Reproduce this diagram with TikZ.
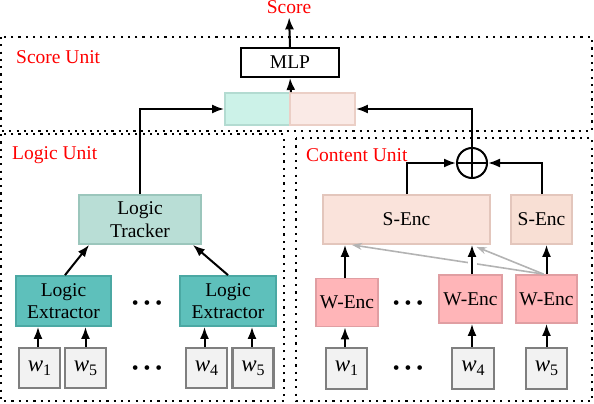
\documentclass[tikz,border=0pt]{standalone}
\usepackage{fontspec}
\setmainfont{Liberation Serif}
\usetikzlibrary{arrows.meta,calc}
\definecolor{unitred}{HTML}{FF0000}
\definecolor{catLfill}{HTML}{CCF2E8}
\definecolor{catLdraw}{HTML}{B3DBD1}
\definecolor{catRfill}{HTML}{FAEAE6}
\definecolor{catRdraw}{HTML}{EBCFC6}
\definecolor{sencfill}{HTML}{FAE3DB}
\definecolor{sencdraw}{HTML}{E3C6BC}
\definecolor{sencSfill}{HTML}{F8DFD4}
\definecolor{trackfill}{HTML}{B9DED6}
\definecolor{trackdraw}{HTML}{9BC6BC}
\definecolor{extfill}{HTML}{5EC0BB}
\definecolor{extdraw}{HTML}{4BA8A3}
\definecolor{wencfill}{HTML}{FFB5B8}
\definecolor{wencdraw}{HTML}{E09EA2}
\definecolor{wfill}{HTML}{F2F2F2}
\definecolor{wdraw}{HTML}{7F7F7F}
\definecolor{grayarrow}{HTML}{B3B3B3}
\newcommand{\wlab}[1]{{\fontsize{23}{23}\selectfont\itshape w}\raisebox{-4pt}{\fontsize{16}{16}\selectfont #1}}
\tikzset{
  every node/.style={font=\fontsize{19.5}{22.5}\selectfont, inner sep=0pt, align=center},
  unitbox/.style={line width=2.2pt, dash pattern=on 2.2pt off 5.1pt},
  unitlabel/.style={text=unitred, anchor=west},
  arr/.style={line width=2pt, -{Latex[length=12pt,width=9pt]}},
  garr/.style={draw=grayarrow, line width=1.6pt, -{Stealth[length=10pt,width=7pt]}},
  box/.style={rectangle, line width=1.8pt},
  mlpbox/.style={box, draw=black, fill=white, minimum width=98pt, minimum height=29pt, line width=2pt},
  catl/.style={box, draw=catLdraw, fill=catLfill, minimum width=65pt, minimum height=32pt},
  catr/.style={box, draw=catRdraw, fill=catRfill, minimum width=65pt, minimum height=32pt},
  sencbox/.style={box, draw=sencdraw, fill=sencfill, minimum height=49pt},
  trackbox/.style={box, draw=trackdraw, fill=trackfill, minimum width=122pt, minimum height=49pt},
  extbox/.style={box, draw=extdraw, fill=extfill, minimum width=95pt, minimum height=50pt},
  wencbox/.style={box, draw=wencdraw, fill=wencfill, minimum width=62pt, minimum height=48pt},
  wbox/.style={box, draw=wdraw, fill=wfill, minimum width=41pt, minimum height=40pt, line width=2.2pt},
  dotsnode/.style={font=\fontsize{19.5}{19.5}\selectfont}
}
\begin{document}
\begin{tikzpicture}[x=1pt,y=-1pt]
\useasboundingbox (0,0) rectangle (594,404);
% unit boxes
\draw[unitbox] (1,37) rectangle (592,131);
\draw[unitbox] (1,134) rectangle (284,401);
\draw[unitbox] (296,138) rectangle (592,401);
\node[unitlabel] (lscore) at (16,57) {Score Unit};
\node[unitlabel] (llogic) at (12,155) {Logic Unit};
\node[unitlabel] (lcontent) at (306,155) {Content Unit};
% score part
\node[text=unitred, anchor=base] (score) at (289,14) {Score};
\node[mlpbox] (mlp) at (290,62.5) {MLP};
\node[catl] (catL) at (257.5,109) {};
\node[catr] (catR) at (322.5,109) {};
% logic part
\node[trackbox] (track) at (140,219.5) {Logic\\Tracker};
\node[extbox] (le1) at (63.5,301) {Logic\\Extractor};
\node[extbox, minimum width=96pt] (le2) at (228,301) {Logic\\Extractor};
\node[dotsnode] (ldots1) at (147,305) {•\hspace{4.9pt}•\hspace{4.9pt}•};
\node[dotsnode] (ldots2) at (147,370) {•\hspace{4.9pt}•\hspace{4.9pt}•};
\node[wbox] (lw1) at (39.5,368) {\wlab{1}};
\node[wbox] (lw5a) at (85.5,368) {\wlab{5}};
\node[wbox] (lw4) at (206.5,368) {\wlab{4}};
\node[wbox] (lw5b) at (253,368) {\wlab{5}};
% content part
\node[circle, draw=black, line width=2pt, minimum size=30pt] (plus) at (472,163) {};
\draw[line width=2pt] (plus.north) -- (plus.south) (plus.west) -- (plus.east);
\node[sencbox, minimum width=167pt] (sencL) at (406.5,219.5) {S-Enc};
\node[sencbox, minimum width=61pt, fill=sencSfill] (sencS) at (541.5,219.5) {S-Enc};
\node[wencbox] (we1) at (347,302.5) {W-Enc};
\node[wencbox, minimum width=63pt] (we2) at (470.5,299) {W-Enc};
\node[wencbox, minimum width=61pt] (we3) at (546.5,299) {W-Enc};
\node[dotsnode] (cdots1) at (408,305) {•\hspace{4.9pt}•\hspace{4.9pt}•};
\node[dotsnode] (cdots2) at (408,370) {•\hspace{4.9pt}•\hspace{4.9pt}•};
\node[wbox, minimum height=41pt] (cw1) at (346.5,368.5) {\wlab{1}};
\node[wbox, minimum height=41pt, minimum width=42pt] (cw4) at (473,368.5) {\wlab{4}};
\node[wbox, minimum height=41pt] (cw5) at (546.5,368.5) {\wlab{5}};
% connectors: score
\draw[arr, shorten >=3pt] (mlp.north) -- (score.south);
\draw[arr] (catL.north east) -- (mlp.south);
\draw[arr] (track.north) |- (catL.west);
\draw[arr] (plus.north) |- (catR.east);
% logic
\draw[arr] ([xshift=1.5pt]le1.north) -- ([xshift=11pt]track.south west);
\draw[arr] (le2.north) -- ([xshift=-9pt]track.south east);
\draw[arr] ([xshift=-1.5pt]lw1.north) -- ([xshift=-1.5pt]lw1.north |- le1.south);
\draw[arr] (lw5a.north) -- (lw5a.north |- le1.south);
\draw[arr] ([xshift=-2pt]lw4.north) -- ([xshift=-2pt]lw4.north |- le2.south);
\draw[arr] ([xshift=-1pt]lw5b.north) -- ([xshift=-1pt]lw5b.north |- le2.south);
% content
\draw[arr] (sencL.north) |- (plus.west);
\draw[arr] (sencS.north) |- (plus.east);
\draw[garr] ([xshift=-3pt]we3.north) -- ([xshift=-54.5pt]sencL.south);
\draw[garr] ([xshift=-3pt]we3.north) -- ([xshift=70pt,yshift=-2pt]sencL.south);
\draw[arr, preaction={draw=white, line width=7pt, arrows=-}] ([xshift=-2pt]we1.north) -- ([xshift=-2pt]we1.north |- sencL.south);
\draw[arr, preaction={draw=white, line width=9pt, arrows=-, shorten >=8pt, shorten <=4pt}] ([xshift=1.5pt]we2.north) -- ([xshift=1.5pt]we2.north |- sencL.south);
\draw[arr] (we3.north) -- (we3.north |- sencS.south);
\draw[arr] ([xshift=-1.5pt]cw1.north) -- ([xshift=-1.5pt]cw1.north |- we1.south);
\draw[arr] ([xshift=-1pt]cw4.north) -- ([xshift=-1pt]cw4.north |- we2.south);
\draw[arr] (cw5.north) -- (cw5.north |- we3.south);
\end{tikzpicture}
\end{document}
